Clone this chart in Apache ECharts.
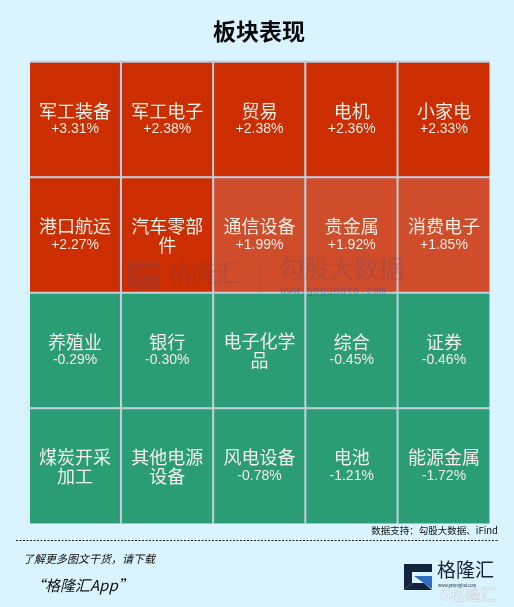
<!DOCTYPE html>
<html><head><meta charset="utf-8">
<style>html,body{margin:0;padding:0;background:#d9f3ff}#c{width:514px;height:607px}</style>
<script src="https://cdn.jsdelivr.net/npm/echarts@6/dist/echarts.min.js"></script>
</head><body><div id="c"></div>
<script>
const titleText = '板块表现';
const sectors = ['军工装备','军工电子','贸易','电机','小家电',
  '港口航运','汽车零部\n件','通信设备','贵金属','消费电子',
  '养殖业','银行','电子化学\n品','综合','证券',
  '煤炭开采\n加工','其他电源\n设备','风电设备','电池','能源金属'];
const changes = [3.31,2.38,2.38,2.36,2.33,
  2.27,2.1,1.99,1.92,1.85,
  -0.29,-0.30,-0.35,-0.45,-0.46,
  -0.55,-0.65,-0.78,-1.21,-1.72];
const columns = ['c1','c2','c3','c4','c5'];
const rows = ['r1','r2','r3','r4'];
const FONT = '"Noto Sans CJK SC","Noto Sans",sans-serif';
const BG = '#d9f3ff';
const fmt = v => (v > 0 ? '+' : '') + v.toFixed(2) + '%';
const cells = sectors.map((name, i) => ({
  name, value: [i % 5, Math.floor(i / 5), changes[i]]
}));
const chart = echarts.init(document.getElementById('c'), null, {renderer:'canvas'});
const wm = 'rgba(90,70,110,0.22)';
chart.setOption({
  backgroundColor:BG,
  animation:false,
  title:{text:titleText,left:213,top:20,padding:0,textStyle:{fontFamily:FONT,fontSize:23,fontWeight:'bold',color:'#0a0a0a'}},
  grid:{left:29,top:62,width:461,height:462},
  xAxis:{type:'category',data:columns,show:false},
  yAxis:{type:'category',data:rows,inverse:true,show:false},
  visualMap:{show:false,type:'piecewise',dimension:2,seriesIndex:0,
    pieces:[{lt:0,color:'#2a9d74'},{gte:0,lt:2,color:'#cf4d2b'},{gte:2,color:'#cc2e00'}]},
  series:[{
    type:'heatmap',data:cells,
    itemStyle:{borderColor:'#bfcfdf',borderWidth:2},
    emphasis:{disabled:true},
    label:{show:true,fontFamily:FONT,color:'#f4f0ea',
      formatter:p=>{
        const n=p.name;
        return n.includes('\n')
          ? n.split('\n').map(s=>'{n|'+s+'}').join('\n')
          : '{n|'+n+'}\n{v|'+fmt(p.value[2])+'}';
      },
      rich:{n:{fontFamily:FONT,fontSize:18,lineHeight:19,color:'#f4f0ea'},
            v:{fontFamily:'"Liberation Sans",sans-serif',fontSize:14,lineHeight:18,color:'#f4ece4'}}
    }
  }],
  graphic:[
    // outer edges of the block have no visible rule on three sides
    {type:'line',z:40,silent:true,shape:{x1:29,y1:61,x2:29,y2:526},style:{stroke:BG,lineWidth:2}},
    {type:'line',z:40,silent:true,shape:{x1:491,y1:61,x2:491,y2:526},style:{stroke:BG,lineWidth:2}},
    {type:'line',z:40,silent:true,shape:{x1:28,y1:525,x2:492,y2:525},style:{stroke:BG,lineWidth:2}},
    // watermark across the grid
    {type:'polygon',z:50,silent:true,shape:{points:[[128,261],[160,261],[160,270],[138,270],[138,281],[128,290]]},style:{fill:wm}},
    {type:'polygon',z:50,silent:true,shape:{points:[[142,274],[160,274],[160,290],[134,290]]},style:{fill:wm}},
    {type:'text',z:50,silent:true,x:168,y:261,style:{text:'格隆汇',font:'24px '+FONT,fill:wm}},
    {type:'line',z:50,silent:true,shape:{x1:260,y1:260,x2:260,y2:296},style:{stroke:'rgba(90,70,110,0.15)',lineWidth:1}},
    {type:'text',z:50,silent:true,x:279,y:256,style:{text:'勾股大数据',font:'25px '+FONT,fill:wm}},
    {type:'text',z:50,silent:true,x:280,y:286,style:{text:'www.gogudata.com',font:'11px "DejaVu Sans Mono"',fill:'rgba(70,80,150,0.45)'}},
    // footer
    {type:'text',x:498,y:526,style:{text:'数据支持：勾股大数据、iFind',font:'9.5px '+FONT,fill:'#111',align:'right'}},
    {type:'line',shape:{x1:16,y1:540.5,x2:499,y2:540.5},style:{stroke:'#222',lineWidth:1,lineDash:[2,1.5]}},
    {type:'text',x:23,y:553,style:{text:'了解更多图文干货，请下载',font:'italic 11px '+FONT,fill:'#111'}},
    {type:'text',x:30,y:578,style:{text:'“格隆汇App”',font:'italic 15px '+FONT,fill:'#111'}},
    // logo
    {type:'polygon',shape:{points:[[404,564],[432,564],[432,572],[412,572],[412,583],[404,590]]},style:{fill:'#14233f'}},
    {type:'polygon',shape:{points:[[404,590],[412,583],[424,583],[432,590]]},style:{fill:'#14233f'}},
    {type:'polygon',shape:{points:[[414,576],[432,576],[432,589]]},style:{fill:'#2f6cc0'}},
    {type:'text',x:437,y:560,style:{text:'格隆汇',font:'19px '+FONT,fill:'#14233f'}},
    {type:'text',x:438,y:583,style:{text:'www.gelonghui.com',font:'4px '+FONT,fill:'#14233f'}},
    {type:'text',x:440,y:587,style:{text:'G格隆汇',font:'15px '+FONT,fill:'rgba(255,255,255,0.6)',stroke:'rgba(130,140,150,0.5)',lineWidth:0.5}}
  ]
});
</script></body></html>
